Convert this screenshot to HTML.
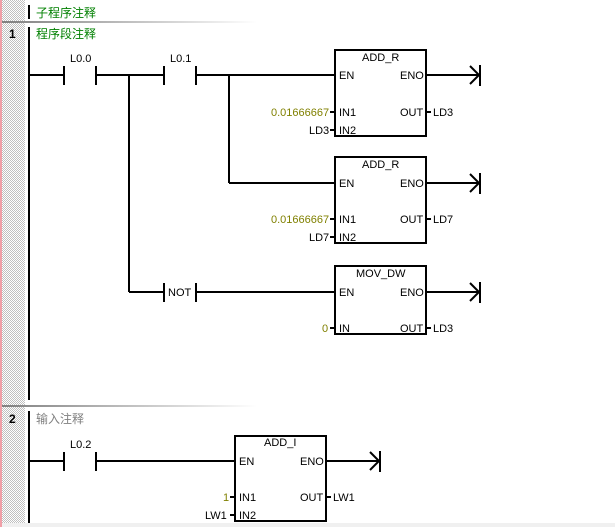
<!DOCTYPE html>
<html><head><meta charset="utf-8"><style>
html,body{margin:0;padding:0;background:#fff;width:615px;height:527px;overflow:hidden}
svg{display:block}
text{font-family:"Liberation Sans","Noto Sans CJK SC",sans-serif;font-size:11px;fill:#000}
.g{fill:#008000;font-size:12px}
.o{fill:#808000}
</style></head><body>
<svg width="615" height="527" viewBox="0 0 615 527" xmlns="http://www.w3.org/2000/svg">
<defs>
<pattern id="ck" width="2" height="2" patternUnits="userSpaceOnUse">
<rect width="2" height="2" fill="#fff"/><rect width="1" height="1" fill="#c0c0c0"/><rect x="1" y="1" width="1" height="1" fill="#c0c0c0"/>
</pattern>
<linearGradient id="sep" x1="0" x2="1"><stop offset="0" stop-color="#808080"/><stop offset="1" stop-color="#fff"/></linearGradient>
</defs>
<rect x="0" y="0" width="2" height="527" fill="#f0a0a8"/>
<rect x="2" y="0" width="23" height="527" fill="url(#ck)"/>
<rect x="2" y="523" width="613" height="4" fill="#f0f0f0"/>
<rect x="2" y="21" width="255" height="2" fill="url(#sep)"/>
<rect x="2" y="405" width="255" height="2" fill="url(#sep)"/>
<rect x="28" y="5" width="2" height="14" fill="#000"/>
<text x="36" y="17" class="g">子程序注释</text>
<text x="9" y="38" style="font-weight:bold;font-size:12px">1</text>
<text x="36" y="38" class="g">程序段注释</text>
<text x="9" y="423" style="font-weight:bold;font-size:12px">2</text>
<text x="36" y="423" class="g" style="fill:#808080">输入注释</text>
<g stroke="#000" stroke-width="2" fill="none">
<line x1="29" y1="27" x2="29" y2="400"/>
<line x1="29" y1="411" x2="29" y2="523"/>
<!-- rung 1 -->
<line x1="29" y1="75" x2="64" y2="75"/>
<line x1="64" y1="66" x2="64" y2="85"/><line x1="96" y1="66" x2="96" y2="85"/>
<line x1="96" y1="75" x2="164" y2="75"/>
<line x1="164" y1="66" x2="164" y2="85"/><line x1="196" y1="66" x2="196" y2="85"/>
<line x1="196" y1="75" x2="335" y2="75"/>
<line x1="129" y1="75" x2="129" y2="292"/>
<line x1="229" y1="75" x2="229" y2="183"/>
<line x1="229" y1="183" x2="335" y2="183"/>
<line x1="129" y1="292" x2="164" y2="292"/>
<line x1="164" y1="283" x2="164" y2="302"/><line x1="196" y1="283" x2="196" y2="302"/>
<line x1="196" y1="292" x2="335" y2="292"/>
<rect x="335" y="50" width="91" height="86"/>
<rect x="335" y="157" width="91" height="86"/>
<rect x="335" y="266" width="91" height="68"/>
<line x1="426" y1="75" x2="480" y2="75"/><path d="M470 66 L479 75 L470 84 M480 65 V86"/>
<line x1="426" y1="183" x2="480" y2="183"/><path d="M470 174 L479 183 L470 192 M480 173 V194"/>
<line x1="426" y1="292" x2="480" y2="292"/><path d="M470 283 L479 292 L470 301 M480 282 V303"/>
<!-- rung 2 -->
<line x1="29" y1="461" x2="64" y2="461"/>
<line x1="64" y1="452" x2="64" y2="471"/><line x1="96" y1="452" x2="96" y2="471"/>
<line x1="96" y1="461" x2="235" y2="461"/>
<rect x="235" y="436" width="91" height="85"/>
<line x1="326" y1="461" x2="380" y2="461"/><path d="M370 452 L379 461 L370 470 M380 451 V472"/>
</g>
<g stroke="#000" stroke-width="2">
<line x1="330" y1="112" x2="335" y2="112"/><line x1="330" y1="130" x2="335" y2="130"/><line x1="426" y1="112" x2="431" y2="112"/>
<line x1="330" y1="219" x2="335" y2="219"/><line x1="330" y1="237" x2="335" y2="237"/><line x1="426" y1="219" x2="431" y2="219"/>
<line x1="330" y1="328" x2="335" y2="328"/><line x1="426" y1="328" x2="431" y2="328"/>
<line x1="230" y1="497" x2="235" y2="497"/><line x1="230" y1="515" x2="235" y2="515"/><line x1="326" y1="497" x2="331" y2="497"/>
</g>
<text x="70" y="62">L0.0</text>
<text x="170" y="62">L0.1</text>
<text x="70" y="448">L0.2</text>
<text x="168" y="296">NOT</text>
<!-- box 1 -->
<text x="362" y="61">ADD_R</text>
<text x="339" y="79">EN</text><text x="400" y="79">ENO</text>
<text x="339" y="116">IN1</text><text x="339" y="134">IN2</text><text x="400" y="116">OUT</text>
<text x="271" y="116" class="o">0.01666667</text><text x="309" y="134">LD3</text><text x="433" y="116">LD3</text>
<!-- box 2 -->
<text x="362" y="168">ADD_R</text>
<text x="339" y="187">EN</text><text x="400" y="187">ENO</text>
<text x="339" y="223">IN1</text><text x="339" y="241">IN2</text><text x="400" y="223">OUT</text>
<text x="271" y="223" class="o">0.01666667</text><text x="309" y="241">LD7</text><text x="433" y="223">LD7</text>
<!-- box 3 -->
<text x="356" y="277">MOV_DW</text>
<text x="339" y="296">EN</text><text x="400" y="296">ENO</text>
<text x="339" y="332">IN</text><text x="400" y="332">OUT</text>
<text x="322" y="332" class="o">0</text><text x="433" y="332">LD3</text>
<!-- box 4 -->
<text x="264" y="446">ADD_I</text>
<text x="239" y="465">EN</text><text x="300" y="465">ENO</text>
<text x="239" y="501">IN1</text><text x="239" y="519">IN2</text><text x="300" y="501">OUT</text>
<text x="223" y="501" class="o">1</text><text x="205" y="519">LW1</text><text x="333" y="501">LW1</text>
</svg>
</body></html>
